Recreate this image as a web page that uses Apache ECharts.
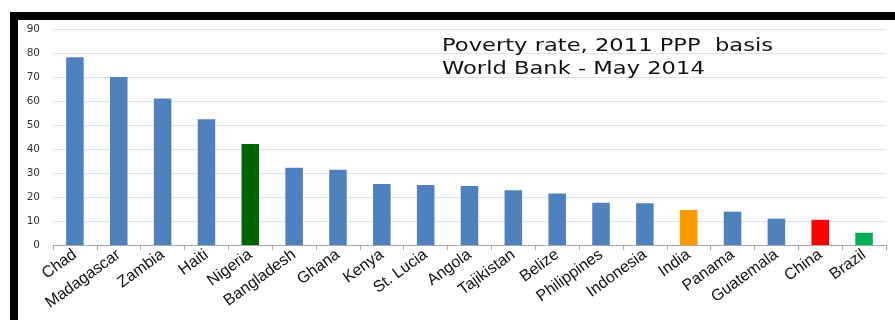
<!DOCTYPE html>
<html>
<head>
<meta charset="utf-8">
<script src="https://cdn.jsdelivr.net/npm/echarts@6/dist/echarts.min.js"></script>
<style>html,body{margin:0;padding:0;background:#fff;}#c{width:895px;height:320px;}</style>
</head>
<body>
<div id="c"></div>
<script>
var countries = ["Chad","Madagascar","Zambia","Haiti","Nigeria","Bangladesh","Ghana","Kenya","St. Lucia","Angola","Tajikistan","Belize","Philippines","Indonesia","India","Panama","Guatemala","China","Brazil"];
var poverty = [78.2, 70.0, 61.0, 52.4, 42.1, 32.2, 31.4, 25.4, 25.0, 24.6, 22.8, 21.5, 17.6, 17.4, 14.6, 13.9, 11.0, 10.5, 5.1];
var barColors = ["#4f81bd","#4f81bd","#4f81bd","#4f81bd","#006400","#4f81bd","#4f81bd","#4f81bd","#4f81bd","#4f81bd","#4f81bd","#4f81bd","#4f81bd","#4f81bd","#ff9900","#4f81bd","#4f81bd","#ff0000","#00b050"];
var titleLines = ["Poverty rate, 2011 PPP  basis", "World Bank - May 2014"];

var chart = echarts.init(document.getElementById('c'), null, {renderer:'canvas'});
chart.setOption({
  animation: false,
  backgroundColor: '#ffffff',
  grid: {left: 53, right: 9, top: 29, bottom: 75, containLabel: false},
  xAxis: {
    type: 'category',
    data: countries,
    axisLine: {lineStyle: {color: '#a6a6a6', width: 1}},
    axisTick: {show: true, length: 5, lineStyle: {color: '#a6a6a6'}},
    axisLabel: {rotate: 36, interval: 0, margin: 8, fontFamily: 'Liberation Sans', fontSize: 16, color: '#111111'}
  },
  yAxis: {
    type: 'value', min: 0, max: 90, interval: 10,
    axisLine: {show: false}, axisTick: {show: false},
    axisLabel: {margin: 13, fontFamily: 'DejaVu Sans', fontSize: 10.5, color: '#333333'},
    splitLine: {lineStyle: {color: '#d9e2ee', width: 1}}
  },
  series: [{
    type: 'bar',
    barWidth: '40%',
    data: poverty.map(function(v, i){ return {value: v, itemStyle: {color: barColors[i]}}; })
  }],
  graphic: [
    {type: 'rect', shape: {x: 10, y: 12, width: 885, height: 8}, style: {fill: '#000'}, z: 100},
    {type: 'rect', shape: {x: 10, y: 12, width: 8, height: 308}, style: {fill: '#000'}, z: 100},
    {type: 'text', x: 442, y: 38, scaleX: 1.33, scaleY: 1, style: {text: titleLines[0], font: '17px "DejaVu Sans"', fill: '#111'}, z: 100},
    {type: 'text', x: 442, y: 61, scaleX: 1.33, scaleY: 1, style: {text: titleLines[1], font: '17px "DejaVu Sans"', fill: '#111'}, z: 100}
  ]
});
</script>
</body>
</html>
